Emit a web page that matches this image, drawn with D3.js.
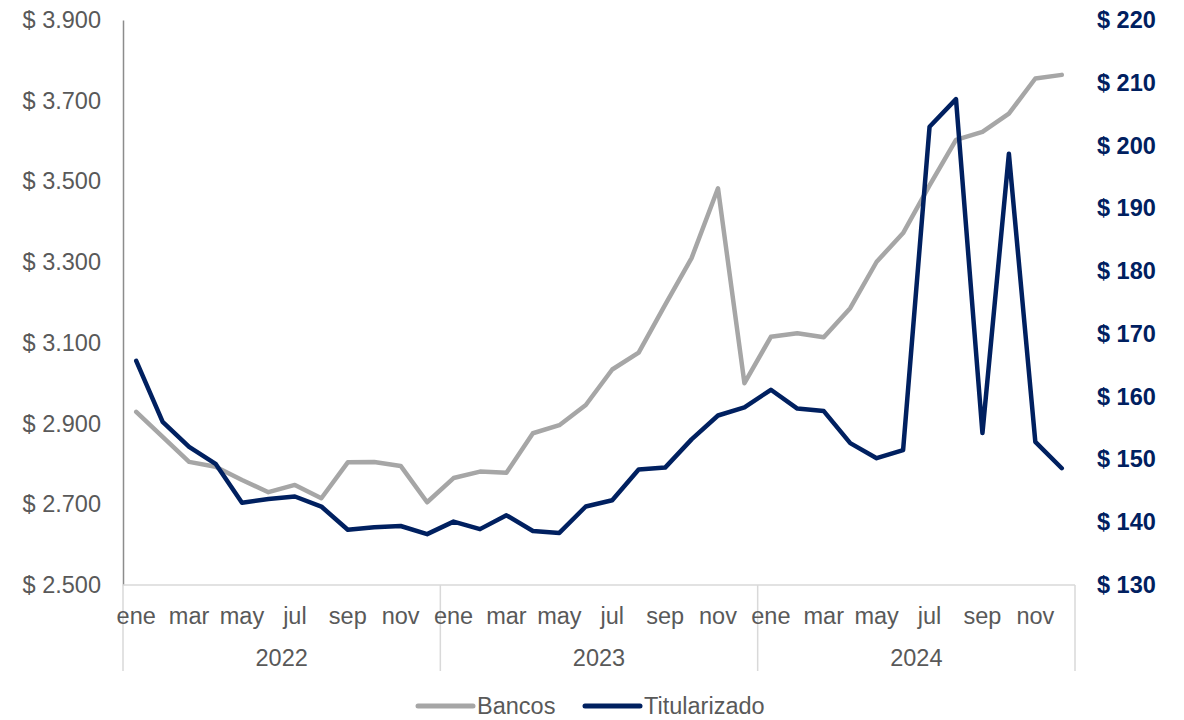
<!DOCTYPE html>
<html><head><meta charset="utf-8">
<script src="https://cdn.jsdelivr.net/npm/d3@7"></script>
<style>
html,body{margin:0;padding:0;background:#fff;}
svg{display:block;font-family:"Liberation Sans",Arial,sans-serif;}
</style></head>
<body><svg id="c" width="1184" height="720"></svg>
<script>
const months = ["ene","feb","mar","abr","may","jun","jul","ago","sep","oct","nov","dic"];
const years = ["2022","2023","2024"];
const bancos = [2929,2867,2805,2793,2760,2730,2748,2715,2804,2805,2795,2705,
                2765,2781,2778,2876,2896,2946,3034,3076,3194,3310,3483,3000,
                3115,3124,3114,3186,3301,3372,3490,3603,3623,3668,3755,3764];
const titularizado = [165.7,156.0,152.0,149.3,143.1,143.7,144.1,142.5,138.8,139.2,139.4,138.1,
                      140.1,138.9,141.1,138.6,138.3,142.5,143.5,148.4,148.7,153.2,157.0,158.3,
                      161.1,158.1,157.7,152.6,150.2,151.5,203.0,207.4,154.2,198.7,152.8,148.6];
const leftTicks = [2500,2700,2900,3100,3300,3500,3700,3900];
const rightTicks = [130,140,150,160,170,180,190,200,210,220];
const seriesNames = ["Bancos","Titularizado"];

const colors = {bancos:"#A6A6A6", tit:"#002060", text:"#595959"};
const L=123, R=1075, T=20, B=585;
const svg = d3.select("#c");
const idx = d3.range(bancos.length);
const x = d3.scaleBand().domain(idx).range([L,R]).padding(0);
const cx = i => x(i) + x.bandwidth()/2;
const yL = d3.scaleLinear().domain([2500,3900]).range([B,T]);
const yR = d3.scaleLinear().domain([130,220]).range([B,T]);

const loc = d3.formatLocale({decimal:",",thousands:".",grouping:[3],currency:["$ ",""]});
const fmt = loc.format("$,.0f");

// left axis
const gl = svg.append("g").attr("transform",`translate(${L},0)`)
  .call(d3.axisLeft(yL).tickValues(leftTicks).tickSize(0).tickPadding(22).tickFormat(fmt));
gl.select(".domain").attr("stroke","#8c8c8c").attr("stroke-width",1.5);
gl.selectAll("text").attr("fill",colors.text).style("font-size","23.5px").attr("font-family","Liberation Sans, Arial, sans-serif");

// right axis
const gr = svg.append("g").attr("transform",`translate(${R},0)`)
  .call(d3.axisRight(yR).tickValues(rightTicks).tickSize(0).tickPadding(22).tickFormat(fmt));
gr.select(".domain").remove();
gr.selectAll("text").attr("fill",colors.tit).style("font-size","23.5px").style("font-weight","bold").attr("font-family","Liberation Sans, Arial, sans-serif");

// bottom axis line
svg.append("line").attr("x1",L).attr("x2",R).attr("y1",B).attr("y2",B).attr("stroke","#d9d9d9").attr("stroke-width",1.5);
// year separators
const yearEdges = d3.range(years.length+1).map(k => k===years.length ? R : x(k*12));
svg.selectAll(".sep").data(yearEdges).join("line")
  .attr("x1",d=>d).attr("x2",d=>d).attr("y1",B).attr("y2",671)
  .attr("stroke","#d9d9d9").attr("stroke-width",1.5);

// month labels
svg.selectAll(".mlab").data(idx.filter(i=>i%2===0)).join("text")
  .attr("x",i=>cx(i)).attr("y",616).attr("text-anchor","middle").attr("dominant-baseline","central")
  .attr("fill",colors.text).style("font-size","23.5px").text(i=>months[i%12]);
// year labels
svg.selectAll(".ylab").data(years).join("text")
  .attr("x",(d,k)=>(x(k*12)+ (k===years.length-1?R:x((k+1)*12)))/2).attr("y",658)
  .attr("text-anchor","middle").attr("dominant-baseline","central")
  .attr("fill",colors.text).style("font-size","23.5px").text(d=>d);

// lines
const lineL = d3.line().x((d,i)=>cx(i)).y(d=>yL(d));
const lineR = d3.line().x((d,i)=>cx(i)).y(d=>yR(d));
svg.append("path").datum(bancos).attr("d",lineL).attr("fill","none")
  .attr("stroke",colors.bancos).attr("stroke-width",4.5).attr("stroke-linejoin","round").attr("stroke-linecap","round");
svg.append("path").datum(titularizado).attr("d",lineR).attr("fill","none")
  .attr("stroke",colors.tit).attr("stroke-width",4.5).attr("stroke-linejoin","round").attr("stroke-linecap","round");

// legend
const leg = [{name:seriesNames[0],c:colors.bancos,x:418},{name:seriesNames[1],c:colors.tit,x:585}];
const lg = svg.selectAll(".leg").data(leg).join("g").attr("transform",d=>`translate(${d.x},706)`);
lg.append("line").attr("x1",0).attr("x2",55).attr("y1",0).attr("y2",0).attr("stroke",d=>d.c).attr("stroke-width",5).attr("stroke-linecap","round");
lg.append("text").attr("x",59).attr("y",0).attr("dominant-baseline","central")
  .attr("fill",colors.text).style("font-size","23.5px").text(d=>d.name);
</script></body></html>
